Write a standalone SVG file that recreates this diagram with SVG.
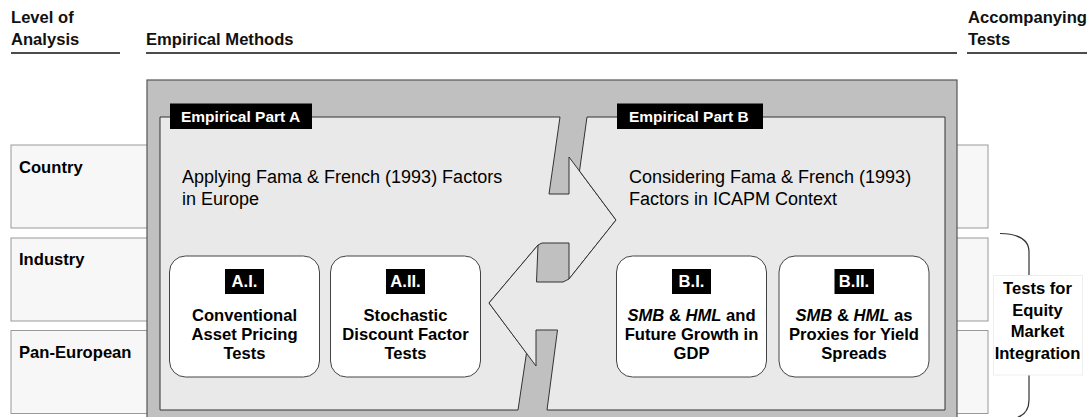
<svg xmlns="http://www.w3.org/2000/svg" width="1087" height="417" viewBox="0 0 1087 417">
<style>
text{font-family:"Liberation Sans",Arial,sans-serif;fill:#000}
.h{font-size:16.6px;font-weight:bold;fill:#111}
.rule{stroke:#111;stroke-width:1.3;fill:none}
.row{fill:#f7f7f7;stroke:#999;stroke-width:1}
.lv{font-size:16.6px;font-weight:bold}
.outer{fill:#c0c0c0;stroke:#555;stroke-width:1.2}
.part{fill:#e9e9e9;stroke:#333;stroke-width:1}
.tag{fill:#000}
.tagt{font-size:15.5px;font-weight:bold;fill:#fff}
.reg{font-size:18px}
.box{fill:#fff;stroke:#444;stroke-width:1}
.bt{font-size:16.6px;font-weight:bold;text-anchor:middle}
.lt{font-size:16.6px;font-weight:bold;fill:#fff;text-anchor:middle}
.i{font-style:italic}
</style>
<g id="header">
<text class="h" x="11" y="23">Level of</text>
<text class="h" x="11" y="45">Analysis</text>
<line class="rule" x1="11" y1="53" x2="120" y2="53"/>
<text class="h" x="146" y="45">Empirical Methods</text>
<line class="rule" x1="146" y1="53" x2="957" y2="53"/>
<text class="h" x="968" y="23">Accompanying</text>
<text class="h" x="968" y="45">Tests</text>
<line class="rule" x1="967" y1="53" x2="1087" y2="53"/>
</g>
<g id="level-country"><rect class="row" x="11" y="145" width="977" height="83"/><text class="lv" x="19" y="173">Country</text></g>
<g id="level-industry"><rect class="row" x="11" y="238" width="977" height="83"/><text class="lv" x="19" y="265">Industry</text></g>
<g id="level-paneuropean"><rect class="row" x="11" y="330.5" width="977" height="83"/><text class="lv" x="19" y="358">Pan-European</text></g>
<g id="methods-frame"><rect class="outer" x="147" y="80" width="810" height="350"/></g>
<g id="part-a">
<polygon class="part" points="160,117 560,117 549,194 569,194 569,157 616,220 569,279 569,243 542,243 538,245 489,303 526.5,353 518,410 160,410"/>
<rect class="tag" x="170" y="103.5" width="142" height="25.5"/>
<text class="tagt" x="181" y="122">Empirical Part A</text>
<text class="reg" x="182" y="183">Applying Fama &amp; French (1993) Factors</text>
<text class="reg" x="182" y="204.5">in Europe</text>
</g>
<g id="part-b">
<polygon class="part" points="587,117 945,117 945,410 547,410 557.5,330 536,330 536,366 489,303 538,245 536.5,282 563,282 569,279 616,220 579.5,171"/>
<rect class="tag" x="617" y="103.5" width="146" height="25.5"/>
<text class="tagt" x="629" y="122">Empirical Part B</text>
<text class="reg" x="629" y="183">Considering Fama &amp; French (1993)</text>
<text class="reg" x="629" y="204.5">Factors in ICAPM Context</text>
</g>
<g id="a1">
<rect class="box" x="169.5" y="256" width="150" height="121" rx="16"/>
<rect class="tag" x="225" y="269" width="39" height="25"/>
<text class="lt" x="244.5" y="287">A.I.</text>
<text class="bt" x="244.5" y="320.5">Conventional</text>
<text class="bt" x="244.5" y="339.5">Asset Pricing</text>
<text class="bt" x="244.5" y="358.5">Tests</text>
</g>
<g id="a2">
<rect class="box" x="330.5" y="256" width="150" height="121" rx="16"/>
<rect class="tag" x="386" y="269" width="39" height="25"/>
<text class="lt" x="405.5" y="287">A.II.</text>
<text class="bt" x="405.5" y="320.5">Stochastic</text>
<text class="bt" x="405.5" y="339.5">Discount Factor</text>
<text class="bt" x="405.5" y="358.5">Tests</text>
</g>
<g id="b1">
<rect class="box" x="616.5" y="256" width="150" height="121" rx="16"/>
<rect class="tag" x="672" y="269" width="39" height="25"/>
<text class="lt" x="691.5" y="287">B.I.</text>
<text class="bt" x="691.5" y="320.5"><tspan class="i">SMB</tspan> &amp; <tspan class="i">HML</tspan> and</text>
<text class="bt" x="691.5" y="339.5">Future Growth in</text>
<text class="bt" x="691.5" y="358.5">GDP</text>
</g>
<g id="b2">
<rect class="box" x="779" y="256" width="150" height="121" rx="16"/>
<rect class="tag" x="834.5" y="269" width="39.5" height="25"/>
<text class="lt" x="854" y="287">B.II.</text>
<text class="bt" x="854" y="320.5"><tspan class="i">SMB</tspan> &amp; <tspan class="i">HML</tspan> as</text>
<text class="bt" x="854" y="339.5">Proxies for Yield</text>
<text class="bt" x="854" y="358.5">Spreads</text>
</g>
<g id="connectors">
<path d="M1000,233.5 Q1029,234 1029,252 L1029,400 Q1029,416 1012,419" fill="none" stroke="#333" stroke-width="1.2"/>
</g>
<g id="tests">
<rect x="993.5" y="275.5" width="89" height="99.5" fill="#fff" stroke="#eee" stroke-width="1"/>
<text class="bt" x="1037.5" y="294">Tests for</text>
<text class="bt" x="1037.5" y="315.5">Equity</text>
<text class="bt" x="1037.5" y="337">Market</text>
<text class="bt" x="1037.5" y="358.5">Integration</text>
</g>
</svg>
